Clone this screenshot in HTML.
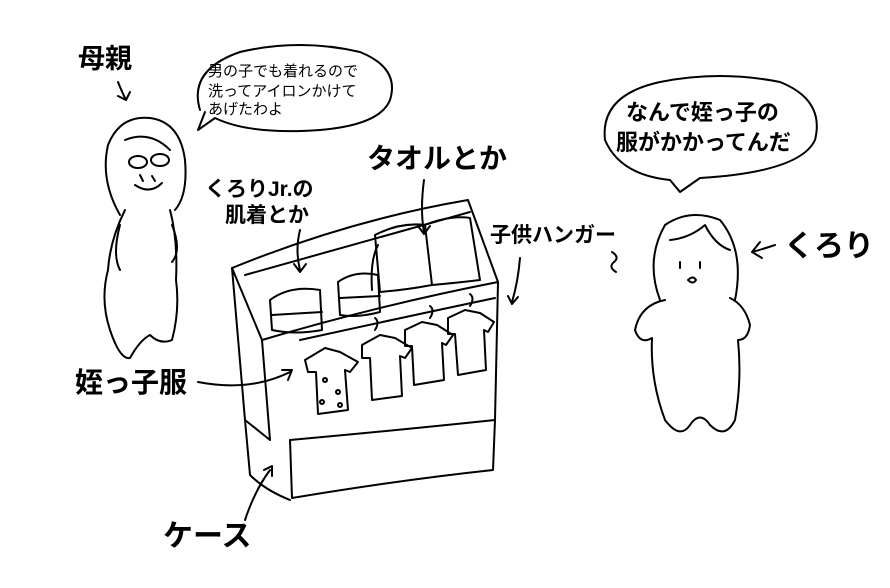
<!DOCTYPE html>
<html><head><meta charset="utf-8"><style>
html,body{margin:0;padding:0;background:#fff;}
svg{display:block;}
text{font-family:"Liberation Sans","Noto Sans CJK JP",sans-serif;fill:#000;}
.b{font-weight:bold;}
</style></head><body>
<svg width="890" height="588" viewBox="0 0 890 588" fill="none" stroke="#000" stroke-width="2" stroke-linecap="round" stroke-linejoin="round">
<!-- labels -->
<text x="78" y="68" font-size="27" class="b" stroke="none">母親</text>
<path d="M118 82 Q122 92 126 100 M118 96 L126 100 L130 92"/>
<!-- left bubble -->
<path d="M200 110 Q188 70 240 52 Q300 38 360 52 Q400 68 390 100 Q380 125 320 130 Q250 135 215 118 L198 130 L205 112"/>
<text x="208" y="76" font-size="15" stroke="none">男の子でも着れるので</text>
<text x="208" y="96" font-size="15" stroke="none">洗ってアイロンかけて</text>
<text x="208" y="114" font-size="15" stroke="none">あげたわよ</text>
<!-- mother -->
<path d="M120 215 Q100 180 108 145 Q120 115 150 118 Q180 122 185 160 Q188 195 175 210"/>
<path d="M125 140 Q150 130 170 150"/>
<ellipse cx="138" cy="162" rx="9" ry="6"/><ellipse cx="160" cy="160" rx="9" ry="6"/>
<path d="M135 185 Q150 195 162 183 M140 175 l3 6 M152 176 l3 5"/>
<path d="M125 210 Q110 240 108 270 Q100 300 110 330 Q120 360 130 358 Q140 340 150 335 Q160 345 172 340 Q180 310 176 280 Q178 240 170 210"/>
<path d="M120 225 Q112 255 120 270 M172 225 Q182 250 172 262"/>
<!-- right bubble -->
<path d="M670 180 Q620 175 605 140 Q600 95 660 82 Q720 70 780 82 Q825 100 815 140 Q800 172 700 178 L680 192 Z" />
<text x="626" y="120" font-size="22" class="b" stroke="none">なんで姪っ子の</text>
<text x="616" y="150" font-size="22" class="b" stroke="none">服がかかってんだ</text>
<!-- kurori -->
<path d="M660 300 Q645 260 665 225 Q690 208 720 220 Q745 250 735 300"/>
<path d="M670 240 Q690 238 705 225 Q715 245 730 250"/>
<path d="M680 262 l0 6 M700 262 l0 6 M688 280 q5 -5 8 0 q-3 5 -8 0"/>
<path d="M612 252 q8 5 2 10 q-6 5 2 10"/>
<path d="M665 300 Q640 305 635 330 Q640 345 652 338 Q650 380 665 420 Q680 440 690 425 Q700 410 710 425 Q725 440 735 420 Q742 380 738 340 Q748 340 750 325 Q745 305 730 298"/>
<text x="784" y="256" font-size="30" class="b" stroke="none">くろり</text>
<path d="M775 245 Q760 250 752 252 M760 242 L752 252 L762 258"/>
<text x="205" y="196" font-size="21" class="b" stroke="none">くろりJr.の</text>
<text x="225" y="222" font-size="21" class="b" stroke="none">肌着とか</text>
<path d="M300 230 Q295 250 300 270 M294 264 L300 272 L306 264"/>
<text x="367" y="168" font-size="28" class="b" stroke="none">タオルとか</text>
<path d="M424 180 Q420 210 424 232 M418 226 L424 234 L430 226"/>
<text x="490" y="242" font-size="21" class="b" stroke="none">子供ハンガー</text>
<path d="M520 258 Q518 282 512 302 M508 296 L512 304 L518 297"/>
<text x="75" y="392" font-size="28" class="b" stroke="none">姪っ子服</text>
<path d="M198 382 Q250 392 290 372 M282 370 L292 370 L288 380"/>
<text x="163" y="546" font-size="30" class="b" stroke="none">ケース</text>
<path d="M245 520 Q255 490 270 470 M264 470 L272 466 L272 476"/>
<!-- case -->
<path d="M232 268 Q350 220 468 200 L498 282 Q380 305 262 340 Z"/>
<path d="M245 275 L470 212"/>
<path d="M232 268 L245 420 M262 340 L270 440 M498 282 L495 420 Q400 430 290 440 M245 420 L270 440"/>
<path d="M245 420 L250 475 Q265 490 290 500 M290 440 L292 498 Q400 480 493 470 L495 420"/>
<!-- shirts stacked -->
<path d="M270 300 Q290 285 320 290 L322 330 Q295 335 272 330 Z M272 315 L322 312"/>
<path d="M338 282 Q355 270 378 275 L380 312 Q358 318 340 315 Z M340 298 L380 296"/>
<!-- towels -->
<path d="M375 235 Q400 222 425 225 L432 285 Q405 290 380 292 Z"/>
<path d="M425 225 Q450 215 470 218 L480 280 Q455 283 432 285"/>
<path d="M372 290 Q370 260 378 245"/>
<!-- hanger rod + shirts -->
<path d="M300 340 Q400 318 495 298"/>
<path d="M305 360 L325 348 L340 352 L358 362 L350 372 L345 370 L348 410 L318 414 L316 372 L308 372 Z"/>
<circle cx="325" cy="380" r="2"/><circle cx="338" cy="392" r="2"/><circle cx="322" cy="402" r="2"/><circle cx="340" cy="405" r="2"/>
<path d="M362 345 L380 335 L395 338 L412 348 L405 358 L400 356 L402 396 L372 400 L370 358 L362 358 Z"/>
<path d="M405 330 L422 322 L437 325 L453 335 L446 345 L442 343 L444 380 L414 385 L412 346 L405 346 Z"/>
<path d="M448 318 L465 310 L480 313 L494 322 L488 332 L484 330 L486 370 L458 375 L455 334 L448 334 Z"/>
<path d="M375 330 q5 -8 0 -12 M430 318 q5 -8 0 -12 M470 306 q5 -8 0 -12"/>
</svg>
</body></html>
